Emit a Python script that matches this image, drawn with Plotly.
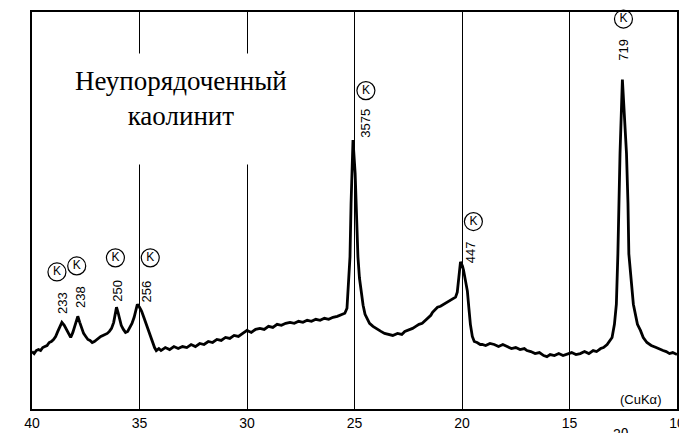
import plotly.graph_objects as go

# ---- data (2θ, arbitrary intensity) ----
two_theta = [
    40.00, 39.90, 39.80, 39.70, 39.60, 39.50, 39.40, 39.30, 39.20, 39.10,
    39.00, 38.90, 38.80, 38.70, 38.61, 38.50, 38.40, 38.30, 38.20, 38.10,
    38.00, 37.87, 37.78, 37.69, 37.60, 37.50, 37.40, 37.30, 37.20, 37.10,
    37.00, 36.90, 36.80, 36.70, 36.60, 36.50, 36.40, 36.30, 36.20, 36.12,
    36.07, 36.00, 35.93, 35.85, 35.75, 35.65, 35.55, 35.45, 35.35, 35.25,
    35.15, 35.10, 35.00, 34.90, 34.80, 34.70, 34.60, 34.50, 34.40, 34.30,
    34.22, 34.10, 34.00, 33.80, 33.60, 33.40, 33.20, 33.00, 32.80, 32.60,
    32.40, 32.20, 32.00, 31.80, 31.60, 31.40, 31.20, 31.00, 30.80, 30.60,
    30.40, 30.20, 30.00, 29.80, 29.60, 29.40, 29.20, 29.00, 28.80, 28.60,
    28.40, 28.20, 28.00, 27.80, 27.60, 27.40, 27.20, 27.00, 26.80, 26.60,
    26.40, 26.20, 26.00, 25.80, 25.60, 25.45, 25.35, 25.27, 25.21, 25.16,
    25.07, 24.97, 24.90, 24.84, 24.77, 24.70, 24.60, 24.51, 24.40, 24.30,
    24.14, 24.00, 23.90, 23.77, 23.60, 23.40, 23.22, 23.00, 22.80, 22.66,
    22.50, 22.30, 22.15, 22.00, 21.85, 21.74, 21.60, 21.45, 21.37, 21.25,
    21.14, 21.00, 20.85, 20.68, 20.50, 20.30, 20.22, 20.17, 20.12, 20.07,
    19.98, 19.93, 19.85, 19.75, 19.68, 19.61, 19.52, 19.43, 19.30, 19.15,
    19.06, 18.90, 18.70, 18.50, 18.30, 18.10, 17.90, 17.70, 17.50, 17.30,
    17.10, 16.98, 16.80, 16.60, 16.40, 16.20, 16.05, 15.90, 15.70, 15.50,
    15.30, 15.13, 14.90, 14.70, 14.50, 14.30, 14.10, 13.90, 13.74, 13.55,
    13.42, 13.25, 13.14, 13.02, 12.91, 12.82, 12.75, 12.70, 12.65, 12.54,
    12.45, 12.35, 12.28, 12.24, 12.03, 11.84, 11.70, 11.57, 11.40, 11.20,
    10.97, 10.80, 10.65, 10.50, 10.35, 10.20, 10.00,
]
intensity = [
    57, 55, 58, 59, 58, 61, 62, 63, 66, 67,
    69, 72, 77, 82, 86, 83, 79, 74, 71, 76,
    83, 92, 86, 80, 75, 72, 69, 68, 66, 67,
    69, 70, 72, 73, 74, 75, 77, 80, 86, 95,
    101, 96, 89, 83, 79, 76, 77, 81, 85, 91,
    99, 104, 101, 97, 91, 85, 79, 72, 66, 61,
    58, 60, 58, 61, 59, 62, 60, 62, 61, 64,
    62, 65, 64, 67, 66, 69, 68, 71, 70, 73,
    72, 75, 78, 76, 79, 80, 79, 82, 81, 84,
    83, 85, 86, 85, 87, 86, 88, 87, 89, 88,
    90, 89, 91, 92, 94, 95, 100, 125, 151, 204,
    267, 234, 190, 151, 130, 117, 103, 94, 89, 85,
    82, 80, 78, 77, 75, 74, 73, 75, 74, 77,
    78, 80, 82, 84, 85, 87, 90, 93, 96, 99,
    101, 102, 104, 106, 108, 111, 116, 124, 136, 146,
    142, 138, 128, 117, 100, 84, 72, 67, 66, 64,
    64, 63, 65, 64, 62, 64, 62, 60, 61, 59,
    60, 58, 57, 55, 56, 53, 52, 54, 53, 55,
    53, 54, 56, 54, 55, 57, 55, 58, 57, 60,
    61, 64, 67, 71, 84, 104, 154, 204, 254, 327,
    295, 254, 204, 154, 104, 84, 78, 71, 66, 63,
    61, 59, 58, 57, 55, 56, 54,
]

# peaks (kaolinite reflections) and their d-spacing labels
peak_2theta = [38.61, 37.87, 36.07, 35.10, 25.07, 20.07, 12.54]
peak_intensity = [86, 92, 101, 104, 267, 146, 327]
peak_labels = ["233", "238", "250", "256", "3575", "447", "719"]

tick_vals = [40, 35, 30, 25, 20, 15, 10]
tick_text = ["40", "35", "30", "25", "20", "15", "10"]

# ---- layout offsets for labels (style, not data) ----
# (dx label, dy label, dx circle, dy circle) in axis units
label_offsets = [
    (0.00, 19, 0.23, 50),
    (-0.09, 19, 0.05, 50),
    (-0.05, 16, 0.05, 49),
    (-0.42, 13, -0.60, 46),
    (-0.60, 17, -0.60, 49),
    (-0.46, 10, -0.60, 40),
    (-0.05, 30, -0.05, 60),
]

fig = go.Figure()

fig.add_trace(go.Scatter(
    x=two_theta, y=intensity, mode="lines",
    line=dict(color="black", width=2.8),
    hoverinfo="skip", showlegend=False,
))

circ_x = [p + o[2] for p, o in zip(peak_2theta, label_offsets)]
circ_y = [p + o[3] for p, o in zip(peak_intensity, label_offsets)]
fig.add_trace(go.Scatter(
    x=circ_x, y=circ_y, mode="markers+text",
    marker=dict(symbol="circle-open", size=18, color="black",
                line=dict(width=1.2, color="black")),
    text=["K"] * len(circ_x), textposition="middle center",
    textfont=dict(family="Liberation Sans", size=12, color="black"),
    cliponaxis=False, hoverinfo="skip", showlegend=False,
))

annotations = []
for px, py, lab, o in zip(peak_2theta, peak_intensity, peak_labels, label_offsets):
    annotations.append(dict(
        x=px + o[0], y=py + o[1], xref="x", yref="y",
        text=lab, textangle=-90, showarrow=False,
        xanchor="center", yanchor="middle",
        font=dict(family="Liberation Sans", size=13, color="black"),
    ))

# white box hiding grid behind the title text
annotations.append(dict(
    x=33.0, y=298, xref="x", yref="y", text=" ", showarrow=False,
    width=230, height=108, bgcolor="white", xanchor="center", yanchor="middle",
))
annotations.append(dict(
    x=33.07, y=308, xref="x", yref="y",
    text="Неупорядоченный<br>каолинит", showarrow=False,
    xanchor="center", yanchor="middle",
    font=dict(family="Times New Roman, Liberation Serif, DejaVu Serif, serif",
              size=27, color="black"),
))
annotations.append(dict(
    x=0.944, y=9, xref="paper", yref="y", text="(CuKα)", showarrow=False,
    xanchor="center", yanchor="middle",
    font=dict(family="Liberation Sans", size=13, color="black"),
))
annotations.append(dict(
    x=12.6, y=-0.062, xref="x", yref="paper", text="2θ", showarrow=False,
    xanchor="center", yanchor="middle",
    font=dict(family="Liberation Sans", size=14, color="black"),
))

# page body has an 8px margin: size the figure so the plot frame lands
# where the reference frame is (x 32..681, y 10..404 in the window)
fig.update_layout(
    width=679, height=425,
    margin=dict(l=24, r=6, t=2, b=21),
    paper_bgcolor="white", plot_bgcolor="white",
    annotations=annotations,
    xaxis=dict(
        range=[40, 10], tickvals=tick_vals, ticktext=tick_text,
        showgrid=True, gridcolor="black", gridwidth=1,
        showline=True, linecolor="black", linewidth=1.5, mirror=True,
        ticks="", zeroline=False, ticklabeloverflow="allow",
        tickfont=dict(family="Liberation Sans", size=14, color="black"),
    ),
    yaxis=dict(
        range=[0, 394], showgrid=False, showticklabels=False,
        showline=True, linecolor="black", linewidth=1.5, mirror=True,
        ticks="", zeroline=False,
    ),
)

fig.write_html("out.html")
